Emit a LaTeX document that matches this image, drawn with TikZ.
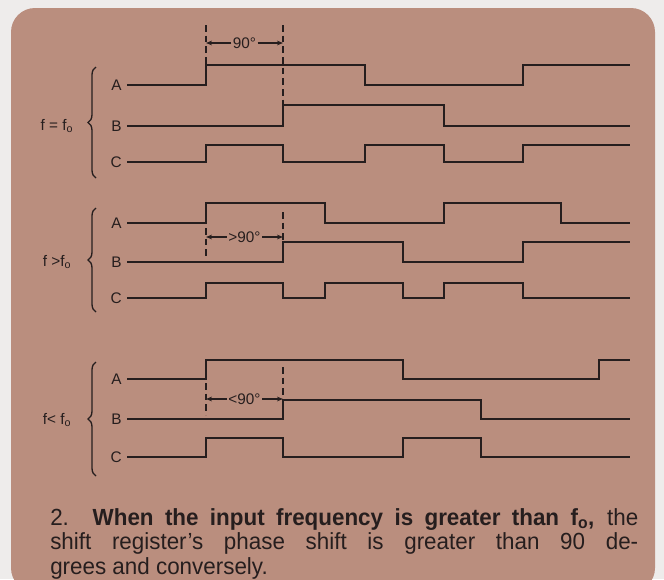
\documentclass[tikz,border=0pt]{standalone}
\usepackage{fontspec}
\setmainfont{Liberation Sans}
\newfontfamily\capfont[FakeStretch=0.96, Ligatures=TeX]{Liberation Sans}
\usetikzlibrary{positioning, arrows.meta, calc, decorations.pathreplacing}

\definecolor{card}{RGB}{186,142,126}
\definecolor{ink}{RGB}{38,30,30}
\definecolor{paper}{RGB}{238,236,235}

\begin{document}
\begin{tikzpicture}[
  x=0.75pt, y=-0.75pt,
  font=\fontsize{11.5}{13}\selectfont,
  wave/.style={draw=ink, line width=2.1pt},
  sig/.style={text=ink, inner sep=1pt, outer sep=3pt, anchor=east},
  freq/.style={text=ink, inner sep=1pt},
  guide/.style={draw=ink, line width=0.9pt, dash pattern=on 5pt off 3pt},
  dim/.style={draw=ink, line width=0.9pt, -{Stealth[length=4.5pt, width=3.5pt]}},
  grp/.style={draw=ink, line width=1pt, decorate, decoration={brace, amplitude=6pt}},
]

% --- page and card
\useasboundingbox (0,0) rectangle (664,579);
\fill[paper] (0,0) rectangle (664,579);
\fill[card, rounded corners=18pt] (11,8) rectangle (655,592);

% --- group 1: f = f0
\node[freq] (f1) at (57,126) {f = f\textsubscript{o}};
\draw[grp] (96,178) -- (96,67);
\node[sig] (a1) at (127,85) {A};
\node[sig] (b1) at (127,126) {B};
\node[sig] (c1) at (127,162) {C};
\draw[wave] (a1.east) -- (206,85) |- (365,65) |- (523,85) |- (630,65);
\draw[wave] (b1.east) -- (283,126) |- (444,105) |- (630,126);
\draw[wave] (c1.east) -- (206,162) |- (283,145) |- (365,162) |- (444,145) |- (523,162) |- (630,145);
\draw[guide] (206,25) -- (206,65);
\draw[guide] (283,25) -- (283,105);
\node[freq] (d1) at (244.5,43) {90°};
\coordinate (d1l) at (206,43);
\coordinate (d1r) at (283,43);
\draw[dim] (d1.west) -- (d1l);
\draw[dim] (d1.east) -- (d1r);

% --- group 2: f > f0
\node[freq] (f2) at (57,262) {f >f\textsubscript{o}};
\draw[grp] (96,312) -- (96,208);
\node[sig] (a2) at (127,223) {A};
\node[sig] (b2) at (127,262) {B};
\node[sig] (c2) at (127,298) {C};
\draw[wave] (a2.east) -- (206,223) |- (325,203) |- (444,223) |- (561,203) |- (630,223);
\draw[wave] (b2.east) -- (283,262) |- (403,242) |- (523,262) |- (630,242);
\draw[wave] (c2.east) -- (206,298) |- (283,283) |- (325,298) |- (403,283) |- (444,298) |- (523,283) |- (630,298);
\draw[guide] (206,228) -- (206,258);
\draw[guide] (283,212) -- (283,242);
\node[freq] (d2) at (244.5,237) {>90°};
\coordinate (d2l) at (206,237);
\coordinate (d2r) at (283,237);
\draw[dim] (d2.west) -- (d2l);
\draw[dim] (d2.east) -- (d2r);

% --- group 3: f < f0
\node[freq] (f3) at (57,420) {f< f\textsubscript{o}};
\draw[grp] (96,476) -- (96,362);
\node[sig] (a3) at (127,379) {A};
\node[sig] (b3) at (127,419) {B};
\node[sig] (c3) at (127,457) {C};
\draw[wave] (a3.east) -- (206,379) |- (403,360) |- (599,379) |- (630,360);
\draw[wave] (b3.east) -- (283,419) |- (481,400) |- (630,419);
\draw[wave] (c3.east) -- (206,457) |- (283,438) |- (403,457) |- (481,438) |- (630,457);
\draw[guide] (206,383) -- (206,415);
\draw[guide] (283,367) -- (283,400);
\node[freq] (d3) at (244.5,399) {<90°};
\coordinate (d3l) at (206,399);
\coordinate (d3r) at (283,399);
\draw[dim] (d3.west) -- (d3l);
\draw[dim] (d3.east) -- (d3r);

% --- caption
\node[text=ink, anchor=north west, inner sep=0pt, text width=441pt, align=justify,
      font=\capfont\fontsize{17.5}{18.6}\selectfont] (cap) at (50,508)
  {2. \textbf{When the input frequency is greater than f\textsubscript{o},} the\linebreak
   shift register’s phase shift is greater than 90 de-\linebreak
   grees and conversely.};

\end{tikzpicture}
\end{document}
